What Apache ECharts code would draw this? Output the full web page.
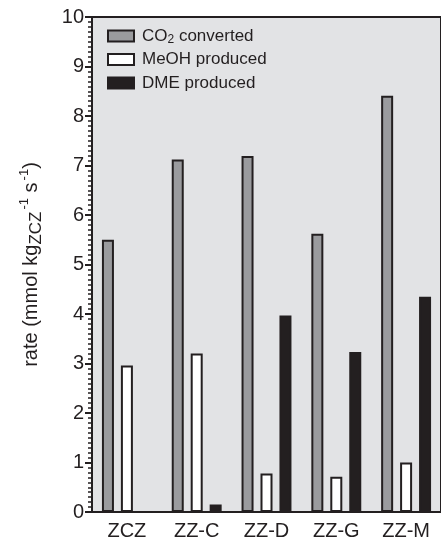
<!DOCTYPE html>
<html><head><meta charset="utf-8">
<script src="https://cdn.jsdelivr.net/npm/echarts@6/dist/echarts.min.js"></script>
<style>html,body{margin:0;padding:0;background:#fff}#c{width:441px;height:543px}</style>
</head><body><div id="c"></div>
<script>
const categories = ['ZCZ', 'ZZ-C', 'ZZ-D', 'ZZ-G', 'ZZ-M'];
const co2Converted = [5.5, 7.12, 7.19, 5.62, 8.41];
const meohProduced = [2.96, 3.2, 0.78, 0.71, 1.0];
const dmeProduced = [0, 0.15, 3.97, 3.23, 4.35];
const seriesNames = ['CO2 converted', 'MeOH produced', 'DME produced'];
const yTicks = { min: 0, max: 10, interval: 1 };

const FONT = '"Liberation Sans", Arial, Helvetica, sans-serif';
const INK = '#231f20';
const chart = echarts.init(document.getElementById('c'), null, { renderer: 'canvas' });
const fills = ['#9a9b9e', '#ffffff', INK];
const data = [co2Converted, meohProduced, dmeProduced];

chart.setOption({
  animation: false,
  textStyle: { fontFamily: FONT, color: INK },
  grid: { left: 92, top: 17, width: 352, bottom: 31, show: true, backgroundColor: '#e2e3e5', borderColor: INK, borderWidth: 2 },
  legend: {
    show: true, orient: 'vertical', left: 102, top: 21,
    itemWidth: 26, itemHeight: 11, itemGap: 3.5, icon: 'rect',
    data: seriesNames,
    formatter: function (n) {
      if (n === 'CO2 converted') return '{a|CO}{sub|2}{a| converted}';
      return '{a|' + n + '}';
    },
    textStyle: {
      fontFamily: FONT, color: INK, fontSize: 17, padding: [0, 0, 0, 3], lineHeight: 20,
      rich: {
        a: { fontFamily: FONT, fontSize: 17, color: INK, lineHeight: 20, verticalAlign: 'middle' },
        sub: { fontFamily: FONT, fontSize: 12, color: INK, lineHeight: 20, verticalAlign: 'bottom' }
      }
    }
  },
  xAxis: {
    type: 'category', data: categories,
    axisLine: { lineStyle: { color: INK, width: 2 } },
    axisTick: { show: false },
    axisLabel: { fontFamily: FONT, fontSize: 20, color: INK, margin: 9 }
  },
  yAxis: {
    type: 'value', min: yTicks.min, max: yTicks.max, interval: yTicks.interval,
    splitLine: { show: false },
    axisLine: { show: true, lineStyle: { color: INK, width: 2 } },
    axisTick: { show: true, length: 7, lineStyle: { color: INK, width: 2 } },
    minorTick: { show: true, splitNumber: 10, length: 4, lineStyle: { color: INK, width: 1.5 } },
    axisLabel: { fontFamily: FONT, fontSize: 20, color: INK, margin: 8 },
    name: '{a|rate (mmol kg}{sub|ZCZ}{sup|-1}{a| s}{sup|-1}{a|)}',
    nameLocation: 'middle', nameRotate: 90, nameGap: 46,
    nameTextStyle: {
      fontFamily: FONT, color: INK,
      rich: {
        a: { fontFamily: FONT, fontSize: 20, color: INK, lineHeight: 30, verticalAlign: 'middle' },
        sub: { fontFamily: FONT, fontSize: 17, color: INK, lineHeight: 30, verticalAlign: 'bottom', padding: [0, 0, 1, 0] },
        sup: { fontFamily: FONT, fontSize: 13, color: INK, lineHeight: 30, verticalAlign: 'top', padding: [2, 0, 0, 2] }
      }
    }
  },
  series: seriesNames.map((n, i) => ({
    name: n, type: 'bar', data: data[i],
    barWidth: 12, barGap: '58%',
    itemStyle: { color: fills[i], borderColor: INK, borderWidth: 2 }
  }))
});
</script></body></html>
